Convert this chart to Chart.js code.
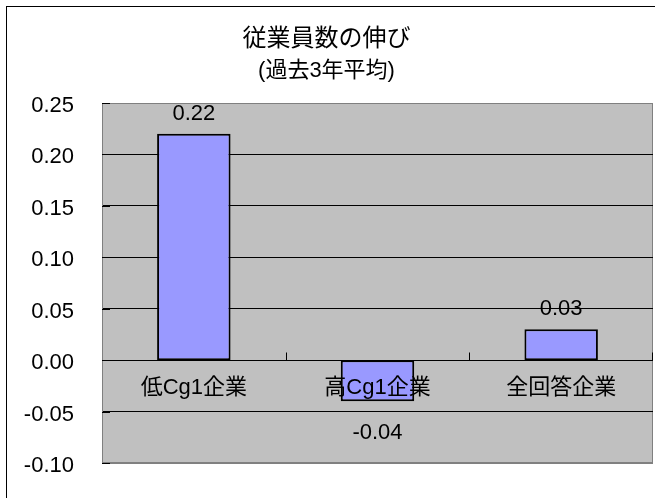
<!DOCTYPE html>
<html>
<head>
<meta charset="utf-8">
<script src="https://cdn.jsdelivr.net/npm/chart.js@4"></script>
<style>
  body { margin: 0; background: #fff; overflow: hidden; }
  #wrap { position: relative; width: 655px; height: 498px; overflow: hidden; }
  #frame { position: absolute; left: 6px; top: 6px; width: 700px; height: 600px; border: 1px solid #000; }
  #chart { position: absolute; left: 0; top: 0; }
</style>
</head>
<body>
<div id="wrap">
  <div id="frame"></div>
  <canvas id="chart" width="655" height="498"></canvas>
</div>
<script>
// データ
const categories = ['低Cg1企業', '高Cg1企業', '全回答企業'];
const values = [0.22, -0.04, 0.03];
const valueLabels = ['0.22', '-0.04', '0.03'];
const titleText = '従業員数の伸び';
const subtitleText = '(過去3年平均)';

const FONT = "'Liberation Sans', Arial, 'Noto Sans CJK JP', sans-serif";

// 灰色の背景・ラベル・目盛り
const excelLook = {
  id: 'excelLook',
  beforeDraw(chart) {
    const { ctx, chartArea: a } = chart;
    ctx.save();
    ctx.fillStyle = '#C0C0C0';
    ctx.fillRect(a.left, a.top, a.right - a.left, a.bottom - a.top);
    ctx.strokeStyle = '#808080';
    ctx.lineWidth = 1;
    ctx.strokeRect(a.left + 0.5, a.top + 0.5, a.right - a.left - 1, a.bottom - a.top - 1);
    ctx.restore();
  },
  afterDatasetsDraw(chart) {
    const { ctx, chartArea: a, scales } = chart;
    const x = scales.x, y = scales.y;
    const zero = Math.round(y.getPixelForValue(0)) + 0.5;
    ctx.save();
    ctx.strokeStyle = '#000';
    ctx.lineWidth = 1;
    // 横軸の線と目盛り
    ctx.beginPath();
    ctx.moveTo(a.left, zero);
    ctx.lineTo(a.right, zero);
    for (let i = 0; i < categories.length; i++) {
      const bx = i < categories.length - 1
        ? (x.getPixelForValue(i) + x.getPixelForValue(i + 1)) / 2
        : a.right - 1;
      ctx.moveTo(Math.round(bx) + 0.5, zero);
      ctx.lineTo(Math.round(bx) + 0.5, zero - 8);
    }
    // 縦軸の目盛り
    y.ticks.forEach(t => {
      const ty = Math.round(y.getPixelForValue(t.value)) + 0.5;
      ctx.moveTo(a.left, ty);
      ctx.lineTo(a.left + 8, ty);
    });
    ctx.stroke();

    ctx.fillStyle = '#000';
    ctx.font = '22px ' + FONT;
    ctx.textAlign = 'center';
    ctx.textBaseline = 'middle';
    // カテゴリ名（0の線の下）
    categories.forEach((c, i) => {
      ctx.fillText(c, x.getPixelForValue(i), zero + 27);
    });
    // 値ラベル
    const meta = chart.getDatasetMeta(0);
    meta.data.forEach((bar, i) => {
      const v = values[i];
      const ly = v >= 0 ? bar.y - 20 : bar.y + 32;
      ctx.fillText(valueLabels[i], bar.x, ly);
    });
    ctx.restore();
  }
};

new Chart(document.getElementById('chart'), {
  type: 'bar',
  data: {
    labels: categories,
    datasets: [{
      data: values,
      backgroundColor: '#9999FF',
      borderColor: '#000',
      borderWidth: 2,
      borderSkipped: false,
      categoryPercentage: 1,
      barPercentage: 0.4
    }]
  },
  options: {
    responsive: false,
    animation: false,
    layout: { padding: { left: 0, right: 2, bottom: 35, top: 0 } },
    plugins: {
      legend: { display: false },
      tooltip: { enabled: false },
      title: {
        display: true,
        text: titleText,
        color: '#000',
        font: { family: FONT, size: 24, weight: 'normal', lineHeight: 1.2 },
        padding: { top: 24.6, bottom: 0 }
      },
      subtitle: {
        display: true,
        text: subtitleText,
        color: '#000',
        font: { family: FONT, size: 22, weight: 'normal', lineHeight: 1.2 },
        padding: { top: 4.4, bottom: 18.8 }
      }
    },
    scales: {
      x: { display: false },
      y: {
        min: -0.1,
        max: 0.25,
        afterFit: s => { s.width = 102; },
        ticks: {
          stepSize: 0.05,
          color: '#000',
          padding: 0,
          labelOffset: 3,
          font: { family: FONT, size: 22 },
          callback: v => (Math.abs(v) < 1e-9 ? 0 : Number(v)).toFixed(2)
        },
        grid: {
          drawTicks: true,
          tickLength: 28,
          tickColor: 'rgba(0,0,0,0)',
          color: c => (c.tick && (Math.abs(c.tick.value - 0.25) < 1e-9 || Math.abs(c.tick.value + 0.1) < 1e-9)) ? '#808080' : '#000'
        },
        border: { color: '#808080' }
      }
    }
  },
  plugins: [excelLook]
});
</script>
</body>
</html>
